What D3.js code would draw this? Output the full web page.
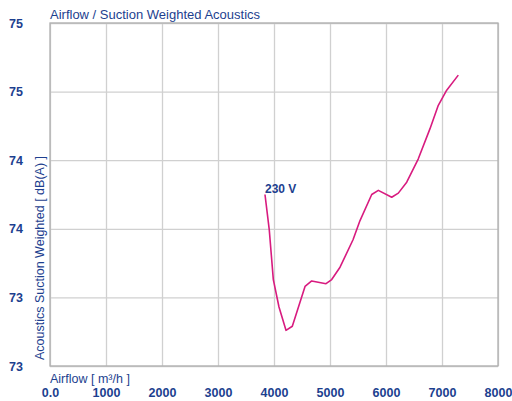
<!DOCTYPE html>
<html>
<head>
<meta charset="utf-8">
<script src="https://cdn.jsdelivr.net/npm/d3@7"></script>
<style>
  body { margin: 0; background: #fff; }
  svg { font-family: "Liberation Sans", Arial, sans-serif; }
  .grid line { stroke: #d0d0d0; stroke-width: 1.3; }
  .grid .domain { display: none; }
  .ticklbl text { fill: #1d3f8f; font-size: 12.5px; font-weight: bold; }
  .ticklbl line, .ticklbl .domain { display: none; }
</style>
</head>
<body>
<svg width="512" height="401"></svg>
<script>
// data
let airflow = [3839, 3916, 3988, 4089, 4214, 4327, 4554, 4673, 4929, 5030, 5179, 5411, 5536,
               5745, 5863, 6102, 6220, 6370, 6577, 6786, 6934, 7084, 7291]
let acoustics = [73.75, 73.49, 73.13, 72.93, 72.76, 72.79, 73.08, 73.12, 73.10, 73.13, 73.22, 73.42, 73.56,
                 73.75, 73.78, 73.73, 73.76, 73.84, 74.01, 74.23, 74.40, 74.51, 74.62]
let xTicks = [0, 1000, 2000, 3000, 4000, 5000, 6000, 7000, 8000]
let xTickLabels = ['0.0', '1000', '2000', '3000', '4000', '5000', '6000', '7000', '8000']
let yTicks = [72.5, 73, 73.5, 74, 74.5, 75]
let yTickLabels = ['73', '73', '74', '74', '75', '75']
let seriesName = '230 V'

let svg = d3.select('svg'),
    margin = {top: 23, bottom: 35, left: 50, right: 14},
    width = svg.attr('width') - margin.left - margin.right,
    height = svg.attr('height') - margin.top - margin.bottom

let xScale = d3.scaleLinear().domain([0, 8000]).range([margin.left, margin.left + width]),
    yScale = d3.scaleLinear().domain([72.5, 75]).range([margin.top + height, margin.top])

let blue = '#1d3f8f'

// grid lines
svg.append('g')
    .attr('class', 'grid')
    .attr('transform', 'translate(0,' + (margin.top + height) + ')')
    .call(d3.axisBottom(xScale).tickValues(xTicks).tickSize(-height).tickFormat(''))
svg.append('g')
    .attr('class', 'grid')
    .attr('transform', 'translate(' + margin.left + ',0)')
    .call(d3.axisLeft(yScale).tickValues(yTicks).tickSize(-width).tickFormat(''))

// plot border
svg.append('rect')
    .attr('x', margin.left)
    .attr('y', margin.top)
    .attr('width', width)
    .attr('height', height)
    .attr('fill', 'none')
    .attr('stroke', '#b0b0b0')
    .attr('stroke-width', 1.3)

// tick labels
svg.append('g')
    .attr('class', 'ticklbl')
    .attr('transform', 'translate(0,' + (margin.top + height + 19) + ')')
    .call(d3.axisBottom(xScale).tickValues(xTicks).tickSize(0).tickFormat((d, i) => xTickLabels[i]))
svg.append('g')
    .attr('class', 'ticklbl')
    .attr('transform', 'translate(26,0)')
    .call(d3.axisLeft(yScale).tickValues(yTicks).tickSize(0).tickFormat((d, i) => yTickLabels[i]))

// the curve
let line = d3.line()
    .x((d, i) => xScale(airflow[i]))
    .y(d => yScale(d))
svg.append('path')
    .datum(acoustics)
    .attr('d', line)
    .attr('fill', 'none')
    .attr('stroke', '#d81b7f')
    .attr('stroke-width', 1.6)
    .attr('stroke-linejoin', 'round')

svg.append('text')
    .attr('x', xScale(airflow[0]))
    .attr('y', yScale(acoustics[0]) - 2)
    .attr('fill', blue)
    .attr('font-size', 12)
    .attr('font-weight', 'bold')
    .text(seriesName)

// titles
svg.append('text')
    .attr('x', margin.left)
    .attr('y', 19)
    .attr('fill', blue)
    .attr('font-size', 13)
    .text('Airflow / Suction Weighted Acoustics')
svg.append('text')
    .attr('x', margin.left)
    .attr('y', margin.top + height + 17)
    .attr('fill', blue)
    .attr('font-size', 12.5)
    .text('Airflow [ m³/h ]')
svg.append('text')
    .attr('text-anchor', 'middle')
    .attr('transform', 'translate(44,' + (margin.top + height - 108) + ') rotate(-90)')
    .attr('fill', blue)
    .attr('font-size', 12.5)
    .text('Acoustics Suction Weighted [ dB(A) ]')
</script>
</body>
</html>
